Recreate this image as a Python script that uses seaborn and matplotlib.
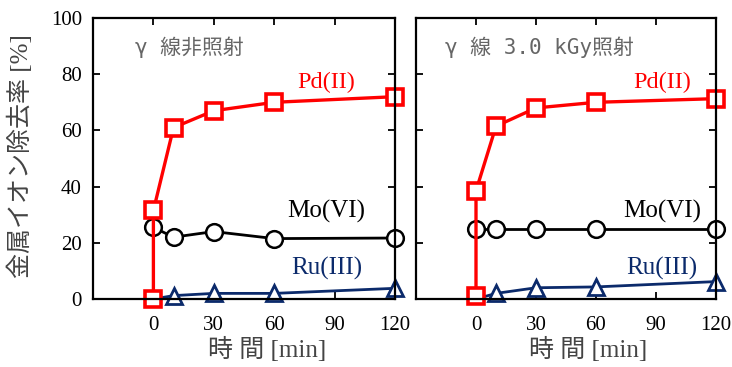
import matplotlib
matplotlib.use("Agg")
import matplotlib.pyplot as plt
import seaborn as sns

# time [min]; t=0 appears twice for Pd (before / right after contact)
pd_time = [0, 0, 10, 30, 60, 120]
time = [0, 10, 30, 60, 120]

# left: no gamma irradiation
pd_left = [0, 31.5, 61, 67, 70, 72]
mo_left = [25.5, 22, 24, 21.5, 21.7]
ru_left = [0, 1.2, 2, 2, 3.8]

# right: gamma 3.0 kGy
pd_right = [1, 38.5, 61.5, 68, 70, 71.3]
mo_right = [24.8, 24.8, 24.8, 24.8, 24.8]
ru_right = [0, 2, 4, 4.3, 6.2]

titles = ["γ 線非照射", "γ 線 3.0 kGy照射"]
x_ticks = [0, 30, 60, 90, 120]
y_ticks = [0, 20, 40, 60, 80, 100]

RED = "#ff0000"
NAVY = "#0b2a6b"
serif = ["Liberation Serif", "Noto Sans CJK JP"]

sns.set_theme(style="ticks")
plt.rcParams["font.family"] = serif

fig = plt.figure(figsize=(7.32, 3.67), dpi=100)
ax_l = fig.add_axes([93 / 732, 1 - 299 / 367, 302 / 732, 281 / 367])
ax_r = fig.add_axes([416 / 732, 1 - 299 / 367, 300 / 732, 281 / 367])


def draw_panel(ax, pd_vals, mo_vals, ru_vals, title, show_y, lab_x, title_x):
    mk = dict(markerfacecolor="white", clip_on=False, estimator=None, sort=False)
    # Ru marker at t=0 sits behind the Pd square, so skip it
    sns.lineplot(x=time, y=ru_vals, ax=ax, color=NAVY, lw=2.0, marker="^",
                 markersize=11, markeredgewidth=2.0, markeredgecolor=NAVY,
                 markevery=[1, 2, 3, 4], **mk)
    sns.lineplot(x=time, y=mo_vals, ax=ax, color="black", lw=2.0, marker="o",
                 markersize=12, markeredgewidth=1.8, markeredgecolor="black", **mk)
    sns.lineplot(x=pd_time, y=pd_vals, ax=ax, color=RED, lw=2.4, marker="s",
                 markersize=11, markeredgewidth=2.6, markeredgecolor=RED, **mk)

    ax.set_xlim(-30, 120)
    ax.set_ylim(0, 100)
    ax.set_xticks(x_ticks)
    ax.set_yticks(y_ticks)
    ax.tick_params(direction="in", length=5, width=1.3, top=True, right=True,
                   labelsize=15, colors="black")
    ax.tick_params(axis="x", pad=12)
    ax.tick_params(axis="y", pad=8)
    if not show_y:
        ax.set_yticklabels([])
    for s in ax.spines.values():
        s.set_linewidth(1.6)
        s.set_color("black")

    ax.text(lab_x, 77, "Pd(II)", color=RED, fontsize=17.5,
            ha="center", va="center")
    ax.text(lab_x, 31, "Mo(VI)", color="black", fontsize=18,
            ha="center", va="center")
    ax.text(lab_x, 10.7, "Ru(III)", color=NAVY, fontsize=18,
            ha="center", va="center")
    ax.text(title_x, 89.7, title, color="#666666", fontsize=15,
            ha="left", va="center",
            family=["DejaVu Sans Mono", "Noto Sans CJK JP"])

    ax.set_xlabel("時 間 [min]", fontsize=18, color="#444444")
    ax.xaxis.set_label_coords(0.575, -0.135)
    ax.set_ylabel("")


draw_panel(ax_l, pd_left, mo_left, ru_left, titles[0], True, 86, -9)
draw_panel(ax_r, pd_right, mo_right, ru_right, titles[1], False, 93, -15.5)

fig.text(20 / 732, 1 - 156 / 367, "金属イオン除去率 [%]", rotation=90,
         ha="center", va="center", fontsize=18, color="#444444")

fig.savefig("out.png", dpi=100)
